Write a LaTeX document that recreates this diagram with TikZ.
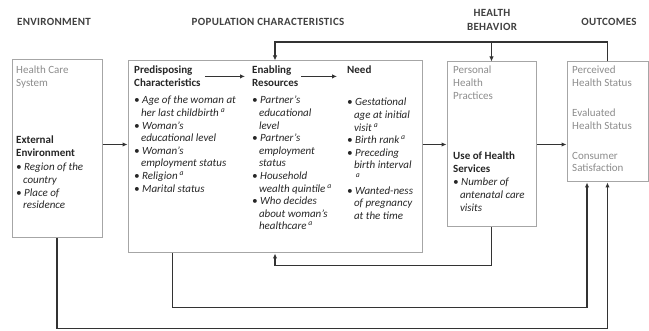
\documentclass[tikz,border=0pt]{standalone}
\usepackage{fontspec}
\setmainfont{Carlito}
\newfontfamily\headfont[LetterSpace=3]{Carlito}
\usetikzlibrary{arrows.meta,calc}
\newcommand{\itm}{\textbullet\ }
\newcommand{\ind}{\hspace*{0.62em}}
\newcommand{\sig}{\,\textsuperscript{a}}
\tikzset{
  box/.style={draw=black!35,line width=1pt},
  hdr/.style={font=\headfont\bfseries\fontsize{11}{14}\selectfont,text=black!75,align=center},
  txt/.style={font=\fontsize{11}{12.6}\selectfont,text=black!85,align=left,anchor=north west,inner sep=0pt},
  lst/.style={txt,font=\fontsize{11}{12.6}\selectfont\itshape},
  head/.style={txt,font=\fontsize{11}{12.6}\selectfont\bfseries},
  grey/.style={txt,text=black!45},
  conn/.style={draw=black!80,line width=1.4pt,-{Latex[length=5pt,width=4.5pt]}}
}
\begin{document}
\begin{tikzpicture}[x=1pt,y=-1pt]
\useasboundingbox (0,0) rectangle (649,331);
\node[hdr] (henv) at (54,22) {ENVIRONMENT};
\node[hdr] (hpop) at (268,22) {POPULATION CHARACTERISTICS};
\node[hdr] (hhb) at (492,20) {HEALTH\\BEHAVIOR};
\node[hdr] (hout) at (609,22) {OUTCOMES};

\node[box,minimum width=90pt,minimum height=178pt] (env) at (57,149) {};
\node[box,minimum width=294pt,minimum height=192pt] (pop) at (275,157) {};
\node[box,minimum width=89pt,minimum height=165pt] (hb) at (491.5,144.5) {};
\node[box,minimum width=81pt,minimum height=120pt] (out) at (607.5,122) {};

\node[grey] (hcs) at (16,66) {Health Care\\System};
\node[head] (extenv) at (16,136) {External\\Environment};
\node[lst] (envlist) at (16,163) {\itm Region of the\\\ind country\\\itm Place of\\\ind residence};

\node[head] (predis) at (134,66) {Predisposing\\Characteristics};
\node[head] (enabl) at (252,66) {Enabling\\Resources};
\node[head] (need) at (347,66) {Need};
\node[lst] (predislist) at (134,96) {\itm Age of the woman at\\\ind her last childbirth\sig\\\itm Woman's\\\ind educational level\\\itm Woman's\\\ind employment status\\\itm Religion\sig\\\itm Marital status};
\node[lst] (enabllist) at (252,96) {\itm Partner's\\\ind educational\\\ind level\\\itm Partner's\\\ind employment\\\ind status\\\itm Household\\\ind wealth quintile\sig\\\itm Who decides\\\ind about woman's\\\ind healthcare\sig};
\node[lst] (needlist) at (347,98) {\itm Gestational\\\ind age at initial\\\ind visit\sig\\\itm Birth rank\sig\\\itm Preceding\\\ind birth interval\\\ind\sig\\\itm Wanted-ness\\\ind of pregnancy\\\ind at the time};

\node[grey] (php) at (453,66) {Personal\\Health\\Practices};
\node[head] (uhs) at (453,152) {Use of Health\\Services};
\node[lst] (hblist) at (453,178) {\itm Number of\\\ind antenatal care\\\ind visits};

\node[grey] (phs) at (572,66) {Perceived\\Health Status};
\node[grey] (ehs) at (572,109) {Evaluated\\Health Status};
\node[grey] (cs) at (572,152) {Consumer\\Satisfaction};

\draw[conn,shorten <=4pt,shorten >=7pt] (predis.east) -- (predis.east -| enabl.west);
\draw[conn,shorten <=3pt,shorten >=10pt] (enabl.east) -- (enabl.east -| need.west);

\draw[conn] (hb.west -| env.east) -- (hb.west -| pop.west);
\draw[conn] (hb.west -| pop.east) -- (hb.west);
\draw[conn] (hb.east) -- (hb.east -| out.west);

\coordinate (fb) at (0,42);
\draw[conn] (out.north) -- (out.north |- fb) -- (pop.north |- fb) -- (pop.north);
\draw[conn] (hb.north |- fb) -- (hb.north);

\draw[conn] (hb.south) -- ++(0,38) -| (pop.south);
\draw[conn] ($(pop.south west)!0.153!(pop.south east)$) -- ++(0,54) -| ($(out.south west)!0.25!(out.south east)$);
\draw[conn] (env.south) -- ++(0,90) -| (out.south);
\end{tikzpicture}
\end{document}
